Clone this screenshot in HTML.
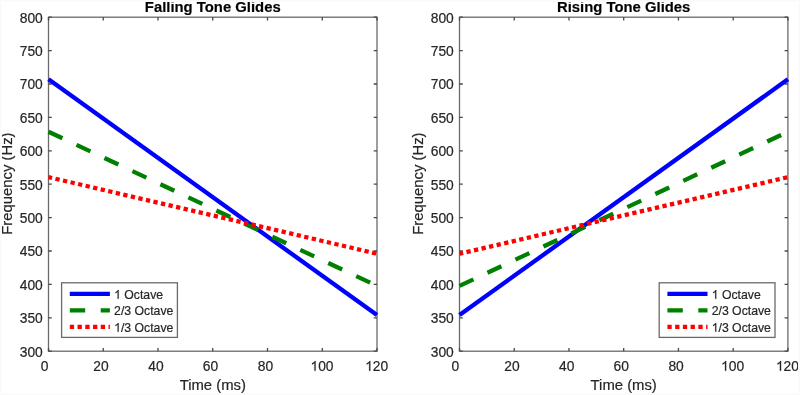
<!DOCTYPE html><html><head><meta charset="utf-8"><style>html,body{margin:0;padding:0;background:#fff;width:800px;height:395px;overflow:hidden}svg{display:block;filter:blur(0.35px)}text{font-family:"Liberation Sans",sans-serif;stroke:#262626;stroke-width:0.2px}</style></head><body>
<svg width="800" height="395" viewBox="0 0 800 395">
<rect width="800" height="395" fill="#fff"/>
<clipPath id="cL"><rect x="45.5" y="17.2" width="334.5" height="334.0"/></clipPath>
<g stroke="#6a6a6a" stroke-width="1.3" fill="none">
<rect x="48.5" y="17.2" width="328.50" height="334.00"/>
</g>
<path d="M48.50 351.2v-3.3M48.50 17.2v3.3M103.25 351.2v-3.3M103.25 17.2v3.3M158.00 351.2v-3.3M158.00 17.2v3.3M212.75 351.2v-3.3M212.75 17.2v3.3M267.50 351.2v-3.3M267.50 17.2v3.3M322.25 351.2v-3.3M322.25 17.2v3.3M377.00 351.2v-3.3M377.00 17.2v3.3M48.5 351.20h3.3M377.0 351.20h-3.3M48.5 317.80h3.3M377.0 317.80h-3.3M48.5 284.40h3.3M377.0 284.40h-3.3M48.5 251.00h3.3M377.0 251.00h-3.3M48.5 217.60h3.3M377.0 217.60h-3.3M48.5 184.20h3.3M377.0 184.20h-3.3M48.5 150.80h3.3M377.0 150.80h-3.3M48.5 117.40h3.3M377.0 117.40h-3.3M48.5 84.00h3.3M377.0 84.00h-3.3M48.5 50.60h3.3M377.0 50.60h-3.3M48.5 17.20h3.3M377.0 17.20h-3.3" stroke="#484848" stroke-width="1.3" fill="none"/>
<g clip-path="url(#cL)" fill="none" stroke-width="4.3">
<line x1="48.50" y1="79.26" x2="377.00" y2="315.06" stroke="#0000ff"/>
<line x1="48.50" y1="131.76" x2="377.00" y2="285.89" stroke="#008000" stroke-dasharray="15.4 15.5" stroke-dashoffset="0"/>
<line x1="48.50" y1="177.13" x2="377.00" y2="253.70" stroke="#ff0000" stroke-dasharray="4.3 3.44" stroke-dashoffset="0.6"/>
</g>
<text x="44.60" y="370.80" font-size="13.8" fill="#262626" text-anchor="middle">0</text>
<text x="101.05" y="370.80" font-size="13.8" fill="#262626" text-anchor="middle">20</text>
<text x="155.90" y="370.80" font-size="13.8" fill="#262626" text-anchor="middle">40</text>
<text x="210.50" y="370.80" font-size="13.8" fill="#262626" text-anchor="middle">60</text>
<text x="265.50" y="370.80" font-size="13.8" fill="#262626" text-anchor="middle">80</text>
<path transform="translate(310.49 370.80) scale(13.8)" fill="#262626" stroke="#262626" stroke-width="0.0145" d="M0.37256 0L0.28467 0L0.28467 -0.56006Q0.25293 -0.52979 0.20142 -0.49951Q0.14990 -0.46924 0.10889 -0.45410L0.10889 -0.53906Q0.18262 -0.57373 0.23657 -0.62183Q0.29053 -0.66992 0.31494 -0.71582L0.37256 -0.71582Z"/><text x="318.16" y="370.80" font-size="13.8" fill="#262626" xml:space="preserve">00</text>
<path transform="translate(365.19 370.80) scale(13.8)" fill="#262626" stroke="#262626" stroke-width="0.0145" d="M0.37256 0L0.28467 0L0.28467 -0.56006Q0.25293 -0.52979 0.20142 -0.49951Q0.14990 -0.46924 0.10889 -0.45410L0.10889 -0.53906Q0.18262 -0.57373 0.23657 -0.62183Q0.29053 -0.66992 0.31494 -0.71582L0.37256 -0.71582Z"/><text x="372.86" y="370.80" font-size="13.8" fill="#262626" xml:space="preserve">20</text>
<text x="42.80" y="356.60" font-size="13.8" fill="#262626" text-anchor="end">300</text>
<text x="42.80" y="323.20" font-size="13.8" fill="#262626" text-anchor="end">350</text>
<text x="42.80" y="289.80" font-size="13.8" fill="#262626" text-anchor="end">400</text>
<text x="42.80" y="256.40" font-size="13.8" fill="#262626" text-anchor="end">450</text>
<text x="42.80" y="223.00" font-size="13.8" fill="#262626" text-anchor="end">500</text>
<text x="42.80" y="189.60" font-size="13.8" fill="#262626" text-anchor="end">550</text>
<text x="42.80" y="156.20" font-size="13.8" fill="#262626" text-anchor="end">600</text>
<text x="42.80" y="122.80" font-size="13.8" fill="#262626" text-anchor="end">650</text>
<text x="42.80" y="89.40" font-size="13.8" fill="#262626" text-anchor="end">700</text>
<text x="42.80" y="56.00" font-size="13.8" fill="#262626" text-anchor="end">750</text>
<text x="42.80" y="22.60" font-size="13.8" fill="#262626" text-anchor="end">800</text>
<text x="212.75" y="390" fill="#262626" font-size="14.85" text-anchor="middle">Time (ms)</text>
<text transform="translate(12.35 183.60) rotate(-90)" fill="#262626" font-size="14.85" text-anchor="middle">Frequency (Hz)</text>
<text x="212.75" y="12.35" fill="#000" stroke="#000" font-size="14.85" font-weight="bold" text-anchor="middle">Falling Tone Glides</text>
<rect x="61.60" y="282.8" width="115.8" height="54.6" fill="#fff" stroke="#6a6a6a" stroke-width="1.3"/>
<line x1="69.80" y1="293.9" x2="109.90" y2="293.9" stroke="#0000ff" stroke-width="4.3"/>
<path transform="translate(114.10 298.80) scale(12.25)" fill="#262626" stroke="#262626" stroke-width="0.0163" d="M0.37256 0L0.28467 0L0.28467 -0.56006Q0.25293 -0.52979 0.20142 -0.49951Q0.14990 -0.46924 0.10889 -0.45410L0.10889 -0.53906Q0.18262 -0.57373 0.23657 -0.62183Q0.29053 -0.66992 0.31494 -0.71582L0.37256 -0.71582Z"/><text x="120.91" y="298.80" font-size="12.25" fill="#262626" xml:space="preserve"> Octave</text>
<line x1="69.80" y1="310.4" x2="109.90" y2="310.4" stroke="#008000" stroke-width="4.3" stroke-dasharray="15.4 15.5"/>
<text x="114.10" y="315.30" font-size="12.25" fill="#262626">2/3 Octave</text>
<line x1="69.80" y1="326.8" x2="109.90" y2="326.8" stroke="#ff0000" stroke-width="4.3" stroke-dasharray="4.3 3.44"/>
<path transform="translate(114.10 331.70) scale(12.25)" fill="#262626" stroke="#262626" stroke-width="0.0163" d="M0.37256 0L0.28467 0L0.28467 -0.56006Q0.25293 -0.52979 0.20142 -0.49951Q0.14990 -0.46924 0.10889 -0.45410L0.10889 -0.53906Q0.18262 -0.57373 0.23657 -0.62183Q0.29053 -0.66992 0.31494 -0.71582L0.37256 -0.71582Z"/><text x="120.91" y="331.70" font-size="12.25" fill="#262626" xml:space="preserve">/3 Octave</text>
<clipPath id="cR"><rect x="456.5" y="17.2" width="334.4" height="334.0"/></clipPath>
<g stroke="#6a6a6a" stroke-width="1.3" fill="none">
<rect x="459.5" y="17.2" width="328.40" height="334.00"/>
</g>
<path d="M459.50 351.2v-3.3M459.50 17.2v3.3M514.23 351.2v-3.3M514.23 17.2v3.3M568.97 351.2v-3.3M568.97 17.2v3.3M623.70 351.2v-3.3M623.70 17.2v3.3M678.43 351.2v-3.3M678.43 17.2v3.3M733.17 351.2v-3.3M733.17 17.2v3.3M787.90 351.2v-3.3M787.90 17.2v3.3M459.5 351.20h3.3M787.9 351.20h-3.3M459.5 317.80h3.3M787.9 317.80h-3.3M459.5 284.40h3.3M787.9 284.40h-3.3M459.5 251.00h3.3M787.9 251.00h-3.3M459.5 217.60h3.3M787.9 217.60h-3.3M459.5 184.20h3.3M787.9 184.20h-3.3M459.5 150.80h3.3M787.9 150.80h-3.3M459.5 117.40h3.3M787.9 117.40h-3.3M459.5 84.00h3.3M787.9 84.00h-3.3M459.5 50.60h3.3M787.9 50.60h-3.3M459.5 17.20h3.3M787.9 17.20h-3.3" stroke="#484848" stroke-width="1.3" fill="none"/>
<g clip-path="url(#cR)" fill="none" stroke-width="4.3">
<line x1="459.50" y1="315.06" x2="787.90" y2="79.26" stroke="#0000ff"/>
<line x1="459.50" y1="285.89" x2="787.90" y2="131.76" stroke="#008000" stroke-dasharray="15.4 15.5" stroke-dashoffset="0"/>
<line x1="459.50" y1="253.70" x2="787.90" y2="177.13" stroke="#ff0000" stroke-dasharray="4.3 3.44" stroke-dashoffset="0.6"/>
</g>
<text x="455.30" y="370.80" font-size="13.8" fill="#262626" text-anchor="middle">0</text>
<text x="511.93" y="370.80" font-size="13.8" fill="#262626" text-anchor="middle">20</text>
<text x="566.67" y="370.80" font-size="13.8" fill="#262626" text-anchor="middle">40</text>
<text x="621.20" y="370.80" font-size="13.8" fill="#262626" text-anchor="middle">60</text>
<text x="676.13" y="370.80" font-size="13.8" fill="#262626" text-anchor="middle">80</text>
<path transform="translate(721.05 370.80) scale(13.8)" fill="#262626" stroke="#262626" stroke-width="0.0145" d="M0.37256 0L0.28467 0L0.28467 -0.56006Q0.25293 -0.52979 0.20142 -0.49951Q0.14990 -0.46924 0.10889 -0.45410L0.10889 -0.53906Q0.18262 -0.57373 0.23657 -0.62183Q0.29053 -0.66992 0.31494 -0.71582L0.37256 -0.71582Z"/><text x="728.73" y="370.80" font-size="13.8" fill="#262626" xml:space="preserve">00</text>
<path transform="translate(775.94 370.80) scale(13.8)" fill="#262626" stroke="#262626" stroke-width="0.0145" d="M0.37256 0L0.28467 0L0.28467 -0.56006Q0.25293 -0.52979 0.20142 -0.49951Q0.14990 -0.46924 0.10889 -0.45410L0.10889 -0.53906Q0.18262 -0.57373 0.23657 -0.62183Q0.29053 -0.66992 0.31494 -0.71582L0.37256 -0.71582Z"/><text x="783.61" y="370.80" font-size="13.8" fill="#262626" xml:space="preserve">20</text>
<text x="453.80" y="356.60" font-size="13.8" fill="#262626" text-anchor="end">300</text>
<text x="453.80" y="323.20" font-size="13.8" fill="#262626" text-anchor="end">350</text>
<text x="453.80" y="289.80" font-size="13.8" fill="#262626" text-anchor="end">400</text>
<text x="453.80" y="256.40" font-size="13.8" fill="#262626" text-anchor="end">450</text>
<text x="453.80" y="223.00" font-size="13.8" fill="#262626" text-anchor="end">500</text>
<text x="453.80" y="189.60" font-size="13.8" fill="#262626" text-anchor="end">550</text>
<text x="453.80" y="156.20" font-size="13.8" fill="#262626" text-anchor="end">600</text>
<text x="453.80" y="122.80" font-size="13.8" fill="#262626" text-anchor="end">650</text>
<text x="453.80" y="89.40" font-size="13.8" fill="#262626" text-anchor="end">700</text>
<text x="453.80" y="56.00" font-size="13.8" fill="#262626" text-anchor="end">750</text>
<text x="453.80" y="22.60" font-size="13.8" fill="#262626" text-anchor="end">800</text>
<text x="623.70" y="390" fill="#262626" font-size="14.85" text-anchor="middle">Time (ms)</text>
<text transform="translate(423.35 183.60) rotate(-90)" fill="#262626" font-size="14.85" text-anchor="middle">Frequency (Hz)</text>
<text x="623.70" y="12.35" fill="#000" stroke="#000" font-size="14.85" font-weight="bold" text-anchor="middle">Rising Tone Glides</text>
<rect x="659.20" y="282.8" width="115.8" height="54.6" fill="#fff" stroke="#6a6a6a" stroke-width="1.3"/>
<line x1="667.40" y1="293.9" x2="707.50" y2="293.9" stroke="#0000ff" stroke-width="4.3"/>
<path transform="translate(711.70 298.80) scale(12.25)" fill="#262626" stroke="#262626" stroke-width="0.0163" d="M0.37256 0L0.28467 0L0.28467 -0.56006Q0.25293 -0.52979 0.20142 -0.49951Q0.14990 -0.46924 0.10889 -0.45410L0.10889 -0.53906Q0.18262 -0.57373 0.23657 -0.62183Q0.29053 -0.66992 0.31494 -0.71582L0.37256 -0.71582Z"/><text x="718.51" y="298.80" font-size="12.25" fill="#262626" xml:space="preserve"> Octave</text>
<line x1="667.40" y1="310.4" x2="707.50" y2="310.4" stroke="#008000" stroke-width="4.3" stroke-dasharray="15.4 15.5"/>
<text x="711.70" y="315.30" font-size="12.25" fill="#262626">2/3 Octave</text>
<line x1="667.40" y1="326.8" x2="707.50" y2="326.8" stroke="#ff0000" stroke-width="4.3" stroke-dasharray="4.3 3.44"/>
<path transform="translate(711.70 331.70) scale(12.25)" fill="#262626" stroke="#262626" stroke-width="0.0163" d="M0.37256 0L0.28467 0L0.28467 -0.56006Q0.25293 -0.52979 0.20142 -0.49951Q0.14990 -0.46924 0.10889 -0.45410L0.10889 -0.53906Q0.18262 -0.57373 0.23657 -0.62183Q0.29053 -0.66992 0.31494 -0.71582L0.37256 -0.71582Z"/><text x="718.51" y="331.70" font-size="12.25" fill="#262626" xml:space="preserve">/3 Octave</text>
<rect x="0.5" y="0.5" width="799" height="394" fill="none" stroke="#fcf9f9" stroke-width="1"/>
<rect x="1.5" y="1.5" width="797" height="392" fill="none" stroke="#fdfcfc" stroke-width="1"/>
</svg></body></html>
